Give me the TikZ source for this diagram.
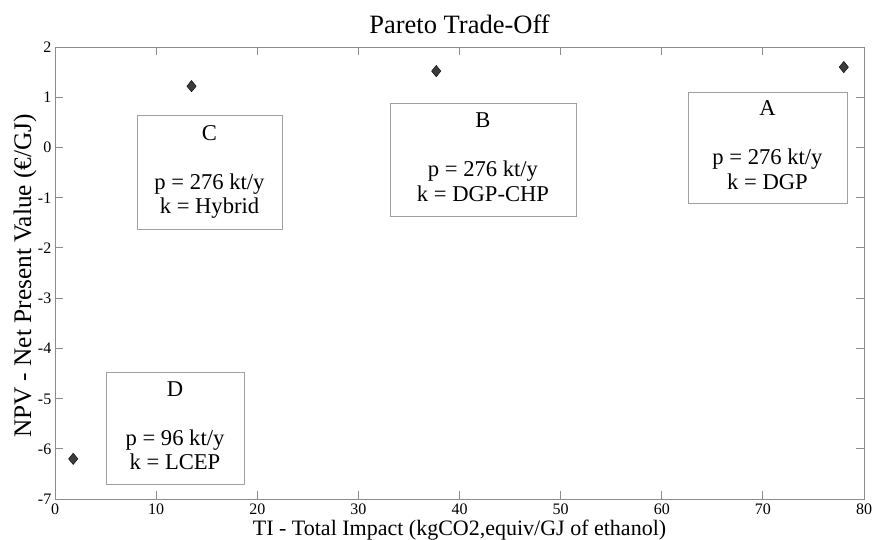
\documentclass[tikz,border=0pt]{standalone}
\usepackage{fontspec}
\setmainfont{Liberation Serif}
\usetikzlibrary{shapes.geometric}
\definecolor{axgray}{RGB}{140,140,140}
\definecolor{boxgray}{RGB}{160,160,160}
\definecolor{mkfill}{RGB}{60,60,60}
\begin{document}
\begin{tikzpicture}[x=1pt,y=-1pt,
  axisline/.style={draw=axgray, line width=0.8pt},
  ticklab/.style={font=\fontsize{16}{16}\selectfont, inner sep=0pt, text height=11pt, text depth=0pt},
  infobox/.style={draw=boxgray, line width=0.8pt, align=center, font=\fontsize{22.6}{24.5}\selectfont, inner sep=0pt},
  datamark/.style={diamond, fill=mkfill, draw=black, line width=0.4pt, minimum width=9.5pt, minimum height=11.5pt, inner sep=0pt}]
\useasboundingbox (0,0) rectangle (872,540);
\fill[white] (0,0) rectangle (872,540);
% axes box
\draw[axisline] (55,47) rectangle (864,499);
% x ticks
\foreach \i in {0,...,8} {
  \pgfmathsetmacro\xx{55+\i*101.125}
  \draw[axisline] (\xx,499) -- ++(0,-8);
  \draw[axisline] (\xx,47) -- ++(0,8);
  \node[ticklab, anchor=base] (xt\i) at (\xx,514.5) {\the\numexpr\i*10\relax};
}
% y ticks
\foreach \j in {0,...,9} {
  \pgfmathsetmacro\yy{47+\j*50.222}
  \draw[axisline] (55,\yy) -- ++(8,0);
  \draw[axisline] (864,\yy) -- ++(-8,0);
  \node[ticklab, anchor=east] (yt\j) at (51.5,\yy) {\the\numexpr2-\j\relax};
}
% labels
\node[font=\fontsize{26.5}{26.5}\selectfont, anchor=base, inner sep=0pt] (title) at (459.5,34) {Pareto Trade-Off};
\node[font=\fontsize{22}{22}\selectfont, anchor=base, inner sep=0pt, text height=15pt, text depth=4pt] (xlab) at (459.5,535.5) {TI - Total Impact (kgCO2,equiv/GJ of ethanol)};
\node[font=\fontsize{25.3}{25.3}\selectfont, anchor=base, inner sep=0pt, rotate=90] (ylab) at (31,276) {NPV - Net Present Value (€/GJ)};
% data markers
\begin{scope}[shift={(55pt,-499pt)}, x=10.1125pt, y=50.222pt]
  \node[datamark] (mA) at (78,8.6) {};
  \node[datamark] (mB) at (37.7,8.52) {};
  \node[datamark] (mC) at (13.5,8.22) {};
  \node[datamark] (mD) at (1.8,0.8) {};
\end{scope}
% annotation boxes
\node[infobox, minimum width=159pt, minimum height=111pt] (boxA) at (767.5,147.5) {A\\[24.5pt]p = 276 kt/y\\k = DGP\vphantom{y}};
\node[infobox, minimum width=186pt, minimum height=113pt] (boxB) at (483,159.5) {B\\[24.5pt]p = 276 kt/y\\k = DGP-CHP\vphantom{y}};
\node[infobox, minimum width=145pt, minimum height=114pt] (boxC) at (209.5,172) {C\\[24.5pt]p = 276 kt/y\\k = Hybrid};
\node[infobox, minimum width=138pt, minimum height=112pt] (boxD) at (175,428) {D\\[24.5pt]p = 96 kt/y\\k = LCEP\vphantom{y}};
\end{tikzpicture}
\end{document}
